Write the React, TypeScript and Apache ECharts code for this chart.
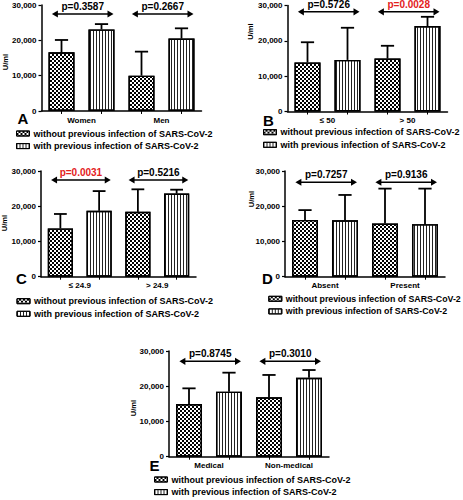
import React, { useEffect, useRef } from "react";
import * as echarts from "echarts";

const SERIES_NAMES = [
  "without previous infection of SARS-CoV-2",
  "with previous infection of SARS-CoV-2",
];

// Panel A
const catsA = ["Women", "Men"];
const withoutA = [16600, 10000];
const withoutErrA = [20100, 16800];
const withA = [23100, 20500];
const withErrA = [24600, 23400];
const pA = ["p=0.3587", "p=0.2667"];
const sigA = [false, false];
const arrowLevelA = 27450;

// Panel B
const catsB = ["≤ 50", "> 50"];
const withoutB = [13900, 15000];
const withoutErrB = [19600, 18600];
const withB = [14600, 24200];
const withErrB = [23700, 26800];
const pB = ["p=0.5726", "p=0.0028"];
const sigB = [false, true];
const arrowLevelB = 28200;

// Panel C
const catsC = ["≤ 24.9", "> 24.9"];
const withoutC = [13700, 18400];
const withoutErrC = [17800, 24800];
const withC = [18700, 23600];
const withErrC = [24300, 24700];
const pC = ["p=0.0031", "p=0.5216"];
const sigC = [true, false];
const arrowLevelC = 27450;

// Panel D
const catsD = ["Absent", "Present"];
const withoutD = [16100, 15100];
const withoutErrD = [18900, 25000];
const withD = [16000, 14900];
const withErrD = [23200, 25000];
const pD = ["p=0.7257", "p=0.9136"];
const sigD = [false, false];
const arrowLevelD = 26800;

// Panel E
const catsE = ["Medical", "Non-medical"];
const withoutE = [14950, 16850];
const withoutErrE = [19400, 23200];
const withE = [18450, 22400];
const withErrE = [23850, 24600];
const pE = ["p=0.8745", "p=0.3010"];
const sigE = [false, false];
const arrowLevelE = 27070;

const FONT = "'Liberation Sans', Arial, Helvetica, sans-serif";
const RED = "#e3211c";

type Panel = {
  letter: string;
  cats: string[];
  without: number[];
  withoutErr: number[];
  withv: number[];
  withErr: number[];
  p: string[];
  sig: boolean[];
  arrowLevel: number;
  grid: { left: number; top: number; width: number; height: number };
  letterPos: [number, number];
  unitPos: [number, number];
  legendPos: [number, number];
  legendFont: number;
};

const panels: Panel[] = [
  {
    letter: "A", cats: catsA, without: withoutA, withoutErr: withoutErrA, withv: withA, withErr: withErrA,
    p: pA, sig: sigA, arrowLevel: arrowLevelA,
    grid: { left: 41.5, top: 5, width: 160, height: 106 },
    letterPos: [17.5, 111], unitPos: [5, 62], legendPos: [16, 129], legendFont: 9,
  },
  {
    letter: "B", cats: catsB, without: withoutB, withoutErr: withoutErrB, withv: withB, withErr: withErrB,
    p: pB, sig: sigB, arrowLevel: arrowLevelB,
    grid: { left: 287.5, top: 5.5, width: 160, height: 106 },
    letterPos: [263, 112.5], unitPos: [250.5, 31.5], legendPos: [263, 127.7], legendFont: 9,
  },
  {
    letter: "C", cats: catsC, without: withoutC, withoutErr: withoutErrC, withv: withC, withErr: withErrC,
    p: pC, sig: sigC, arrowLevel: arrowLevelC,
    grid: { left: 41, top: 171, width: 155, height: 105.7 },
    letterPos: [16, 270.5], unitPos: [4.5, 223], legendPos: [16.5, 296.7], legendFont: 9,
  },
  {
    letter: "D", cats: catsD, without: withoutD, withoutErr: withoutErrD, withv: withD, withErr: withErrD,
    p: pD, sig: sigD, arrowLevel: arrowLevelD,
    grid: { left: 285, top: 171, width: 160, height: 105.7 },
    letterPos: [262, 270.5], unitPos: [251, 199], legendPos: [268.3, 294.3], legendFont: 8.8,
  },
  {
    letter: "E", cats: catsE, without: withoutE, withoutErr: withoutErrE, withv: withE, withErr: withErrE,
    p: pE, sig: sigE, arrowLevel: arrowLevelE,
    grid: { left: 169, top: 351, width: 160, height: 105.7 },
    letterPos: [149.5, 458], unitPos: [133, 408], legendPos: [154, 475], legendFont: 9,
  },
];

const checkerDecal = {
  symbol: "rect",
  symbolSize: 1,
  dashArrayX: [[2, 2], [0, 2, 2, 0]],
  dashArrayY: [2, 0],
  color: "#000",
  backgroundColor: "#fff",
  rotation: 0,
};

const stripeDecal = {
  symbol: "rect",
  symbolSize: 1,
  dashArrayX: [1, 1.6],
  dashArrayY: [4, 0],
  color: "#222",
  backgroundColor: "#fff",
  rotation: 0,
};

function buildOption() {
  const grid: any[] = [];
  const xAxis: any[] = [];
  const yAxis: any[] = [];
  const series: any[] = [];
  const legend: any[] = [];
  const graphic: any[] = [];

  panels.forEach((pn, i) => {
    grid.push({ ...pn.grid, containLabel: false });
    xAxis.push({
      type: "category",
      gridIndex: i,
      data: pn.cats,
      position: "bottom",
      axisLine: { show: true, lineStyle: { color: "#000", width: 1.5 } },
      axisTick: { show: false },
      axisLabel: { color: "#000", fontSize: 8, fontWeight: "bold", fontFamily: FONT, margin: 5 },
    });
    xAxis.push({
      type: "category",
      gridIndex: i,
      data: ["0", "1", "2", "3"],
      position: "bottom",
      axisLine: { show: false },
      axisLabel: { show: false },
      axisTick: { show: true, alignWithLabel: true, interval: 0, length: 3, lineStyle: { color: "#000", width: 1 } },
    });
    yAxis.push({
      type: "value",
      gridIndex: i,
      min: 0,
      max: 30000,
      interval: 10000,
      splitLine: { show: false },
      axisLine: { show: true, lineStyle: { color: "#000", width: 1.5 } },
      axisTick: { show: true, length: 3, lineStyle: { color: "#000", width: 1.2 } },
      axisLabel: {
        color: "#000", fontSize: 8, fontWeight: "bold", fontFamily: FONT, margin: 5,
        formatter: (v: number) => v.toLocaleString("en-US"),
      },
    });

    const xa = i * 2;
    const xs = i * 2 + 1;
    series.push({
      type: "bar",
      name: SERIES_NAMES[0],
      xAxisIndex: xa,
      yAxisIndex: i,
      data: pn.without,
      barWidth: "32.5%",
      barGap: "53.8%",
      itemStyle: { color: "#fff", borderColor: "#000", borderWidth: 1.4, decal: checkerDecal },
      silent: true,
    });
    series.push({
      type: "bar",
      name: SERIES_NAMES[1],
      xAxisIndex: xa,
      yAxisIndex: i,
      data: pn.withv,
      barWidth: "32.5%",
      barGap: "53.8%",
      itemStyle: { color: "#fff", borderColor: "#000", borderWidth: 1.4, decal: stripeDecal },
      silent: true,
    });

    const errData: number[][] = [];
    pn.cats.forEach((_, g) => {
      errData.push([g * 2, pn.without[g], pn.withoutErr[g]]);
      errData.push([g * 2 + 1, pn.withv[g], pn.withErr[g]]);
    });
    series.push({
      type: "custom",
      xAxisIndex: xs,
      yAxisIndex: i,
      data: errData,
      silent: true,
      z: 5,
      encode: { x: 0, y: [1, 2] },
      renderItem: (params: any, api: any) => {
        const base = api.coord([api.value(0), api.value(1)]);
        const top = api.coord([api.value(0), api.value(2)]);
        const bw = api.size([1, 0])[0];
        const half = bw * 0.165;
        const st = { stroke: "#000", lineWidth: 1.8 };
        return {
          type: "group",
          children: [
            { type: "line", shape: { x1: base[0], y1: base[1], x2: top[0], y2: top[1] }, style: st },
            { type: "line", shape: { x1: top[0] - half, y1: top[1], x2: top[0] + half, y2: top[1] }, style: st },
          ],
        };
      },
    });

    const arrowData = pn.cats.map((_, g) => [g, pn.arrowLevel]);
    series.push({
      type: "custom",
      xAxisIndex: xa,
      yAxisIndex: i,
      data: arrowData,
      silent: true,
      z: 6,
      renderItem: (params: any, api: any) => {
        const g = params.dataIndex;
        const c = api.coord([api.value(0), api.value(1)]);
        const bw = api.size([1, 0])[0];
        const x1 = c[0] - bw * 0.37;
        const x2 = c[0] + bw * 0.40;
        const y = c[1];
        const hl = 6;
        const hh = 3.6;
        return {
          type: "group",
          children: [
            { type: "line", shape: { x1: x1 + 2, y1: y, x2: x2 - 2, y2: y }, style: { stroke: "#000", lineWidth: 1.5 } },
            { type: "polygon", shape: { points: [[x1, y], [x1 + hl, y - hh], [x1 + hl, y + hh]] }, style: { fill: "#000" } },
            { type: "polygon", shape: { points: [[x2, y], [x2 - hl, y - hh], [x2 - hl, y + hh]] }, style: { fill: "#000" } },
            {
              type: "text",
              x: (x1 + x2) / 2,
              y: y - 7.5,
              style: {
                text: pn.p[g],
                fill: pn.sig[g] ? RED : "#000",
                font: `bold 10px ${FONT}`,
                align: "center",
                verticalAlign: "middle",
              },
            },
          ],
        };
      },
    });

    legend.push({
      data: SERIES_NAMES,
      orient: "vertical",
      left: pn.legendPos[0],
      top: pn.legendPos[1],
      itemWidth: 13,
      itemHeight: 5,
      itemGap: 3.6,
      icon: "rect",
      selectedMode: false,
      padding: 0,
      itemStyle: { borderColor: "#000", borderWidth: 1 },
      textStyle: { color: "#000", fontSize: pn.legendFont, fontWeight: "bold", fontFamily: FONT, padding: [0, 0, 0, -1] },
    });

    graphic.push({
      type: "text",
      left: pn.letterPos[0],
      top: pn.letterPos[1],
      style: { text: pn.letter, font: `bold 15px ${FONT}`, fill: "#000" },
    });
    graphic.push({
      type: "text",
      x: pn.unitPos[0],
      y: pn.unitPos[1],
      rotation: Math.PI / 2,
      style: { text: "U/ml", font: `bold 7.5px ${FONT}`, fill: "#000", align: "center", verticalAlign: "middle" },
    });
  });

  return {
    animation: false,
    backgroundColor: "#fff",
    textStyle: { fontFamily: FONT },
    grid,
    xAxis,
    yAxis,
    series,
    legend,
    graphic,
  };
}

export default function App() {
  const ref = useRef<HTMLDivElement>(null);
  useEffect(() => {
    if (!ref.current) return;
    const chart = echarts.init(ref.current, undefined, { renderer: "svg" });
    chart.setOption(buildOption() as any);
    return () => chart.dispose();
  }, []);
  return (
    <div
      ref={ref}
      style={{ position: "fixed", left: 0, top: 0, width: 463, height: 500, background: "#fff" }}
    />
  );
}
